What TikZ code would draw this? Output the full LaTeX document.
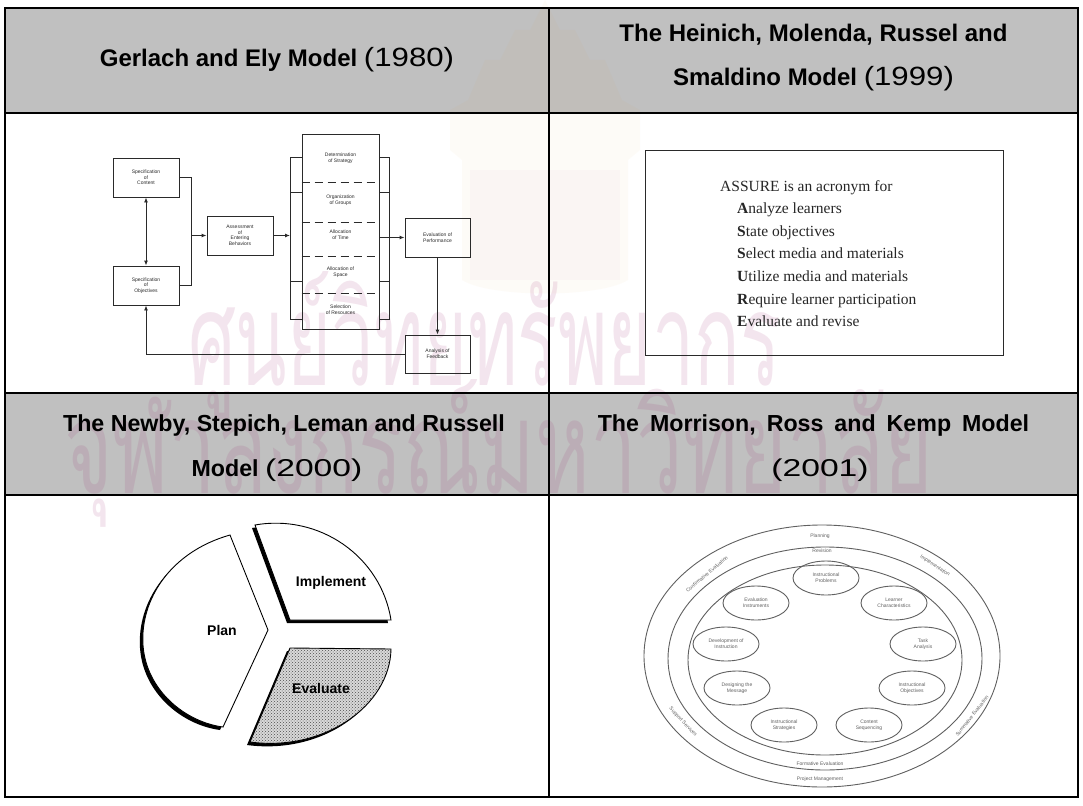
\documentclass[tikz,border=0pt]{standalone}
\usepackage{fontspec}
\setmainfont{Liberation Serif}
\newfontfamily\hfont{Liberation Sans}
\newfontfamily\thaifont[Script=Thai]{Loma}
\usetikzlibrary{shapes.geometric,arrows.meta,patterns,calc}

\definecolor{hdrgray}{HTML}{C0C0C0}
\definecolor{wmark}{HTML}{9A1A66}
\definecolor{wgold}{HTML}{E0A030}
\definecolor{ink}{HTML}{2A2A2A}
\definecolor{inkm}{HTML}{606060}

% years in the headings are set in a lighter, wider face
\newcommand\yearA[1]{\scalebox{1.3}[1.1]{\mdseries(#1)}}
\newcommand\yearB[1]{\scalebox{1.45}[1.05]{\mdseries(#1)}}
\newcommand\wsp{\hspace{11pt}}

\tikzset{
  frame/.style={line width=2.4pt, draw=black},
  hdrA/.style={font=\hfont\bfseries\fontsize{24}{27}\selectfont, inner sep=0pt},
  hdrB/.style={font=\hfont\bfseries\fontsize{23.2}{25}\selectfont, inner sep=0pt},
  gbox/.style={draw=ink, line width=0.9pt, align=center, inner sep=0pt,
    font=\hfont\fontsize{5}{5.6}\selectfont, text=ink},
  glab/.style={align=center, inner sep=0pt, font=\hfont\fontsize{5}{5.6}\selectfont, text=ink},
  gline/.style={draw=ink, line width=0.9pt},
  garr/.style={gline, -{Latex[length=5pt,width=4pt]}},
  gdash/.style={gline, dash pattern=on 8pt off 5pt},
  mring/.style={draw=inkm, line width=0.9pt},
  mell/.style={ellipse, draw=inkm, line width=0.9pt, minimum width=66pt, minimum height=34pt,
    inner sep=0pt, align=center, font=\hfont\fontsize{5}{5.6}\selectfont, text=inkm},
  mlab/.style={font=\hfont\fontsize{5}{5.6}\selectfont, text=inkm, inner sep=0pt},
  piece/.style={draw=black, line width=0.9pt, fill=white},
  pshadow/.style={fill=black, shift={(-3,3)}},
  plab/.style={font=\hfont\bfseries\fontsize{14}{16}\selectfont, inner sep=0pt},
  wm/.style={text=wmark, text opacity=0.11, inner sep=0pt, transform shape},
  crest/.style={fill=wgold, fill opacity=0.035, draw=none},
}

\begin{document}
\begin{tikzpicture}[x=1pt,y=-1pt]
\useasboundingbox (0,0) rectangle (1083,805);
\fill[white] (0,0) rectangle (1083,805);

% header bands
\fill[hdrgray] (5,8) rectangle (1078,113);
\fill[hdrgray] (5,393) rectangle (1078,495);

% faint crest behind the upper cells
\fill[crest] (545,0) -- (560,30) -- (575,30) -- (590,60) -- (605,60) -- (622,100)
  -- (640,110) -- (640,150) -- (628,160) -- (628,280) .. controls (600,298) and (490,298) .. (462,280)
  -- (462,160) -- (450,150) -- (450,110) -- (468,100) -- (485,60) -- (500,60) -- (515,30) -- (530,30) -- cycle;
\fill[crest, fill=wmark, fill opacity=0.025] (470,170) rectangle (620,280);

% background watermark lettering
\node[wm, font=\thaifont\fontsize{130}{130}\selectfont, xscale=0.58, anchor=base west] (wm1) at (188,385) {ศูนย์วิทยทรัพยากร};
\node[wm, font=\thaifont\fontsize{130}{130}\selectfont, xscale=0.64, anchor=base west] (wm2) at (64,493) {จุฬาลงกรณ์มหาวิทยาลัย};

% table rules
\draw[frame] (5,8) rectangle (1078,797);
\draw[line width=2pt] (549,8) -- (549,797);
\draw[line width=2pt] (5,113) -- (1078,113);
\draw[line width=2pt] (5,393) -- (1078,393);
\draw[line width=2pt] (5,495) -- (1078,495);

% header texts
\node[hdrA] (t1) at (277,60) {Gerlach and Ely Model \yearA{1980}};
\node[hdrA] (t2a) at (813.5,35) {The Heinich, Molenda, Russel and};
\node[hdrA] (t2b) at (813.5,79) {Smaldino Model \yearA{1999}};
\node[hdrB] (t3a) at (284,425) {The Newby, Stepich, Leman and Russell};
\node[hdrB] (t3b) at (277,470) {Model \yearB{2000}};
\node[hdrB] (t4a) at (813.5,425) {The\wsp Morrison,\wsp Ross\wsp and\wsp Kemp\wsp Model};
\node[hdrB] (t4b) at (820,470) {\yearB{2001}};

% ---------- Gerlach and Ely flow chart ----------
\node[gbox, minimum width=66pt, minimum height=39pt] (sc) at (146,177.5) {Specification\\of\\Content};
\node[gbox, minimum width=66pt, minimum height=39pt] (so) at (146,285.5) {Specification\\of\\Objectives};
\node[gbox, minimum width=66pt, minimum height=39pt] (ae) at (240,235.5) {Assessment\\of\\Entering\\Behaviors};
\node[gbox, minimum width=77pt, minimum height=195pt] (col) at (340.5,231.5) {};
\node[gbox, minimum width=65pt, minimum height=39pt] (ep) at (437.5,237.5) {Evaluation of\\Performance};
\node[gbox, minimum width=65pt, minimum height=38pt] (af) at (437.5,354) {Analysis of\\Feedback};

\node[glab] (s1) at (340.5,158) {Determination\\of Strategy};
\node[glab] (s2) at (340.5,200) {Organization\\of Groups};
\node[glab] (s3) at (340.5,235) {Allocation\\of Time};
\node[glab] (s4) at (340.5,272) {Allocation of\\Space};
\node[glab] (s5) at (340.5,310) {Selection\\of Resources};
\foreach \yy in {182,222,256,293}
  \draw[gdash] (col.west |- 0,\yy) -- (col.east |- 0,\yy);

% brackets beside the strategy column
\coordinate (lbr) at (290,235);
\coordinate (rbr) at (389,235);
\draw[gline] (col.west |- 0,157) -| (lbr |- 0,319) -- (col.west |- 0,319);
\draw[gline] (col.east |- 0,157) -| (rbr |- 0,319) -- (col.east |- 0,319);
\foreach \yy in {192,281} {
  \draw[gline] (lbr |- 0,\yy) -- (col.west |- 0,\yy);
  \draw[gline] (rbr |- 0,\yy) -- (col.east |- 0,\yy);
}

% connectors
\draw[gline] (sc.east) -- ++(12,0) coordinate (bj) -- (bj |- so.east) -- (so.east);
\draw[garr] (bj |- ae.west) -- (ae.west);
\draw[gline, {Latex[length=5pt,width=4pt]}-{Latex[length=5pt,width=4pt]}] (sc.south) -- (so.north);
\draw[garr] (ae.east) -- (ae.east -| lbr);
\draw[garr] (col.east |- ep.west) -- (ep.west);
\draw[garr] (ep.south) -- (af.north);
\draw[garr] (af.west) -| (so.south);

% ---------- ASSURE ----------
\node[draw=ink, line width=0.9pt, minimum width=358pt, minimum height=205pt] (assure) at (824,252.5) {};
\node[anchor=north west, align=left, font=\fontsize{15.5}{22.6}\selectfont, text=black!85, inner sep=0pt] (acr) at (720,180)
 {ASSURE is an acronym for\\
  \hspace*{17pt}\textbf{A}nalyze learners\\
  \hspace*{17pt}\textbf{S}tate objectives\\
  \hspace*{17pt}\textbf{S}elect media and materials\\
  \hspace*{17pt}\textbf{U}tilize media and materials\\
  \hspace*{17pt}\textbf{R}equire learner participation\\
  \hspace*{17pt}\textbf{E}valuate and revise};

% ---------- Newby et al. pie ----------
\def\implementpath{(255,525) -- (290,620) -- (391,620) .. controls (380.9,555.9) and (318.9,513.7) .. (255,525) -- cycle}
\def\evaluatepath{(290,648) -- (391,649) .. controls (390,705) and (325,752) .. (250,742) -- cycle}
\def\planpath{(230,535) .. controls (170,552) and (140,600) .. (143,645) .. controls (146,690) and (185,722) .. (223,727) -- (268,630) -- cycle}
\fill[pshadow] \implementpath;
\fill[pshadow] \evaluatepath;
\fill[pshadow] \planpath;
\draw[piece] \implementpath;
\draw[piece, preaction={fill=gray!30}, pattern=crosshatch dots, pattern color=gray!60!black] \evaluatepath;
\draw[piece] \planpath;
\node[plab] (pimp) at (331,583) {Implement};
\node[plab] (pplan) at (222,630) {Plan};
\node[plab] (peval) at (321,688) {Evaluate};

% ---------- Morrison, Ross and Kemp ----------
\draw[mring] (822,656) ellipse [x radius=178pt, y radius=131pt];
\draw[mring] (825,658.5) ellipse [x radius=157pt, y radius=111.5pt];
\draw[mring] (825,660) ellipse [x radius=137pt, y radius=95pt];

\node[mell] (m1) at (826,578) {Instructional\\Problems};
\node[mell] (m2) at (894,603) {Learner\\Characteristics};
\node[mell] (m3) at (923,644) {Task\\Analysis};
\node[mell] (m4) at (912,688) {Instructional\\Objectives};
\node[mell] (m5) at (869,725) {Content\\Sequencing};
\node[mell] (m6) at (784,725) {Instructional\\Strategies};
\node[mell] (m7) at (737,688) {Designing the\\Message};
\node[mell] (m8) at (726,644) {Development of\\Instruction};
\node[mell] (m9) at (756,603) {Evaluation\\Instruments};

\node[mlab] (r1) at (820,536) {Planning};
\node[mlab] (r2) at (822,551) {Revision};
\node[mlab] (r3) at (820,764) {Formative Evaluation};
\node[mlab] (r4) at (820,779) {Project Management};
\node[mlab, rotate=-33] (r5) at (935,566) {Implementation};
\node[mlab, rotate=40] (r6) at (707,574) {Confirmative Evaluation};
\node[mlab, rotate=-47] (r7) at (683,722) {Support Services};
\node[mlab, rotate=52] (r8) at (972,716) {Summative Evaluation};
\end{tikzpicture}
\end{document}
